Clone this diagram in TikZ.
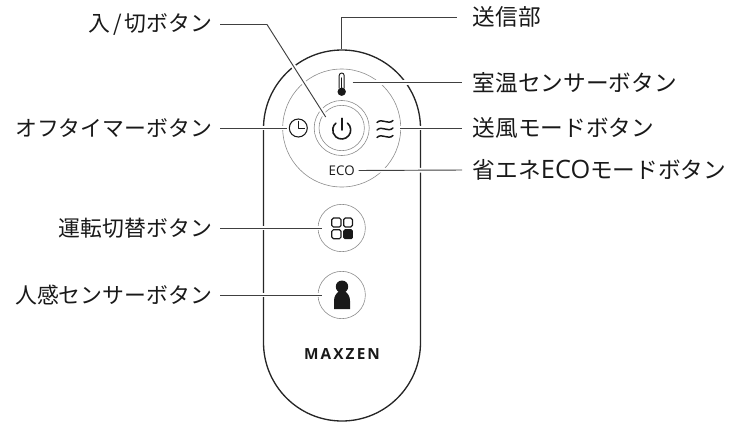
\documentclass[tikz,border=0pt]{standalone}
\usepackage{fontspec}
\setmainfont{Noto Sans CJK JP}
\newfontfamily\latinfont{Open Sans}
\newfontfamily\brandfont[LetterSpace=14]{Open Sans}
\tikzset{
  lbl/.style={font=\fontsize{16.4}{18}\selectfont,text=black!90,outer sep=6pt},
  rlbl/.style={lbl,font=\fontsize{17}{18}\selectfont,outer sep=8.2pt,anchor=west},
  leader/.style={black!75,line width=0.7pt,preaction={draw=white,line width=3.5pt}},
  ring/.style={draw=black!45,line width=0.45pt},
  icon/.style={black!90,line width=0.9pt,line cap=round,line join=round},
}
\begin{document}
\begin{tikzpicture}[x=0.75pt,y=-0.75pt]
\tikzstyle{every node}+=[inner sep=0pt]
\useasboundingbox (0,0) rectangle (729,422);
% body
\draw [black!85,line width=1pt] (263.5,128.5) arc (-180:0:78.5) -- (420.5,342.5) arc (0:180:78.5) -- cycle;
% rings
\node [ring,circle,minimum size=88.5pt] (dial) at (341.7,128) {};
\node [ring,circle,minimum size=41.3pt] (powerout) at (341.7,128) {};
\node [ring,circle,minimum size=34pt] (powerin) at (341.7,128) {};
\node [ring,circle,minimum size=35.5pt] (modebtn) at (341.7,228) {};
\node [ring,circle,minimum size=35.5pt] (humanbtn) at (341.7,295) {};
% labels
\node [lbl,anchor=east] (powerlbl) at (220,24.5) {入\kern2pt/\kern2pt切ボタン};
\node [lbl,anchor=east] (timerlbl) at (220,128) {オフタイマーボタン};
\node [lbl,anchor=east] (modelbl) at (220,228) {運転切替ボタン};
\node [lbl,anchor=east] (humanlbl) at (220,295) {人感センサーボタン};
\node [rlbl] (sendlbl) at (462,17) {送信部};
\node [rlbl] (templbl) at (462,82.5) {室温センサーボタン};
\node [rlbl] (windlbl) at (462,128) {送風モードボタン};
\node [rlbl] (ecolbl) at (462,170) {省エネ{\latinfont\fontsize{19}{18}\selectfont ECO}モードボタン};
% icons that leaders stop at
\node [circle,draw=black!90,line width=0.8pt,minimum size=13.5pt,outer sep=2pt] (clock) at (298.3,128) {};
\node [font=\latinfont\fontsize{10}{10}\selectfont,text=black!90,outer sep=3pt] (eco) at (341.7,170.5) {ECO};
\coordinate (powerbend) at (267,24.5);
\coordinate (powerend) at (325.7,117);
\coordinate (sendtop) at (341.7,48.5);
\coordinate (sendbend) at (341.7,17);
\coordinate (thermoend) at (352.7,82.5);
\coordinate (windend) at (400,128);
% leaders
\draw [leader] (powerlbl.east) -- (powerbend) -- (powerend);
\draw [leader] (timerlbl.east) -- (clock.west);
\draw [leader] (modelbl.east) -- ([xshift=3pt]modebtn.west);
\draw [leader] (humanlbl.east) -- ([xshift=3pt]humanbtn.west);
\draw [leader] (sendtop) -- (sendbend) -- ([xshift=-3.75pt]sendlbl.west);
\draw [leader] (thermoend) -- (templbl.west);
\draw [leader] (windend) -- (windlbl.west);
\draw [leader] (eco.east) -- (ecolbl.west);
% power
\draw [icon,line width=1.2pt] (341.7,130) ++(-50:9) arc (-50:230:9);
\draw [icon,line width=1.2pt] (341.7,118.3) -- (341.7,130);
% clock hands
\draw [icon,line width=0.7pt,line cap=butt] (298.3,120.7) -- (298.3,128.7) -- (305,128.7);
% thermometer
\draw [icon,line width=0.7pt] (339.2,88) -- (339.2,75.5) arc (-180:0:2.5) -- (344.2,88);
\fill [black!90] (341.7,91.7) circle [radius=4.2];
\draw [icon,line width=1.1pt] (341.7,78) -- (341.7,90);
% waves
\draw [icon,line width=1.1pt] (377,122.5) .. controls (382,117.5) and (388,125.5) .. (393,120.5);
\draw [icon,line width=1.1pt] (377,130) .. controls (382,125) and (388,133) .. (393,128);
\draw [icon,line width=1.1pt] (377,137.5) .. controls (382,132.5) and (388,140.5) .. (393,135.5);
% mode grid
\draw [icon,line width=0.9pt,rounded corners=1.2pt] (331.8,218) rectangle (341,227);
\draw [icon,line width=0.9pt,rounded corners=1.2pt] (343.7,218) rectangle (352.4,227);
\draw [icon,line width=0.9pt,rounded corners=1.2pt] (331.8,229.7) rectangle (341,238.7);
\fill [black!90,rounded corners=1.2pt] (343.2,229.2) rectangle (352.9,239.2);
% person
\fill [black!90] (342,286.7) circle [radius=6.2];
\fill [black!90] (334,309) -- (334,301) .. controls (334,296) and (336,294) .. (339,291) -- (345,291) .. controls (348,294) and (350,296) .. (350,301) -- (350,309) -- cycle;
% brand
\node [font=\brandfont\bfseries\fontsize{11.5}{12}\selectfont,text=black!90] (brand) at (342,354.3) {MAXZEN};
\end{tikzpicture}
\end{document}
